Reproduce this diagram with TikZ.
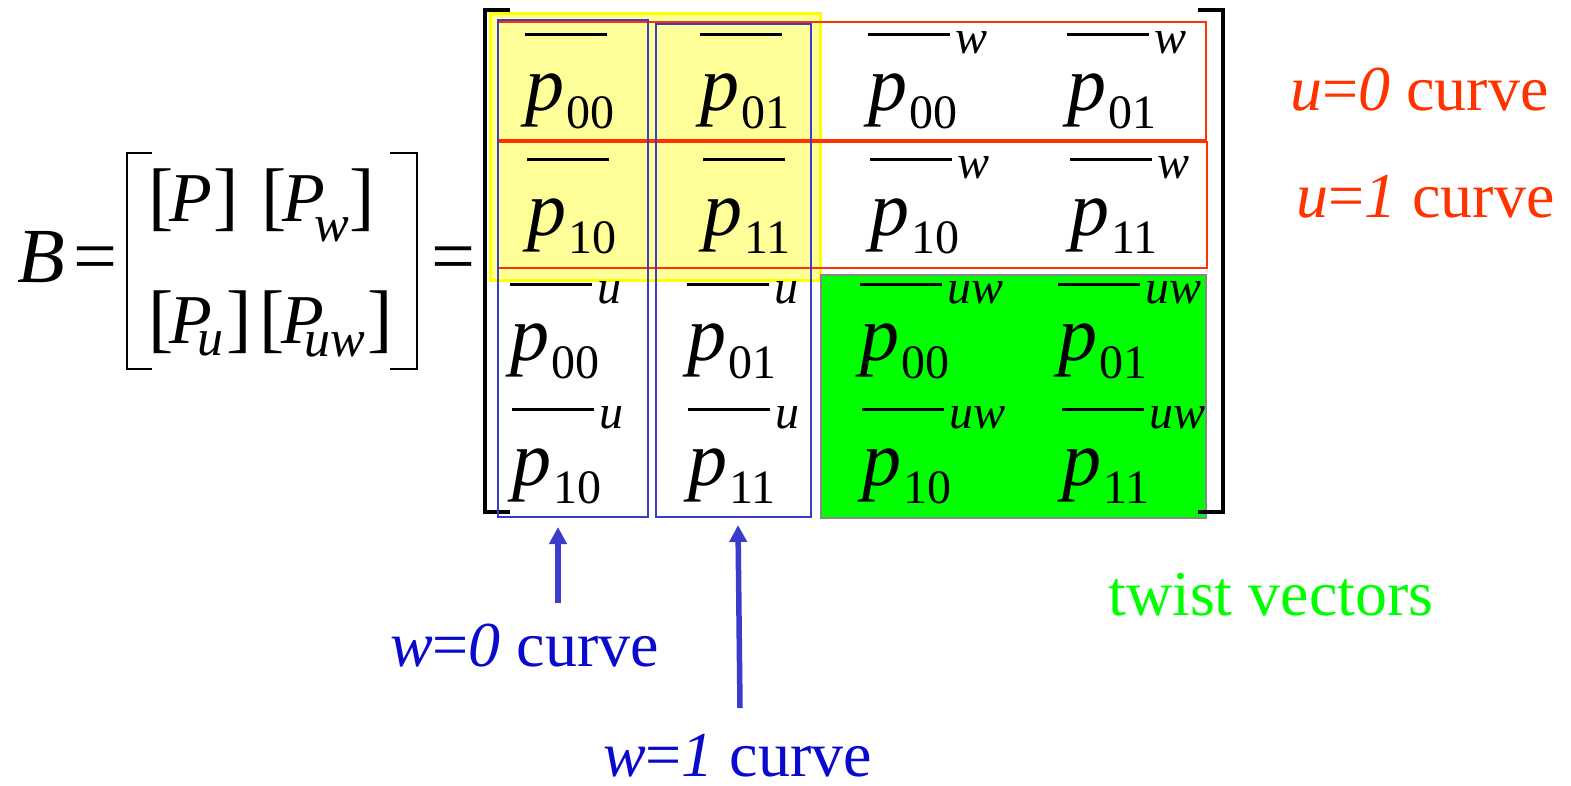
\documentclass[tikz,border=0pt]{standalone}
\usepackage{fontspec}
\setmainfont{Liberation Serif}
\usetikzlibrary{arrows.meta,calc}
\definecolor{yfill}{HTML}{FFFF99}
\definecolor{yedge}{HTML}{FFFF00}
\definecolor{gfill}{HTML}{00FF00}
\definecolor{gedge}{HTML}{888888}
\definecolor{redc}{HTML}{FF3300}
\definecolor{bluebox}{HTML}{3B3BCC}
\definecolor{bluetxt}{HTML}{0A0ACC}
\definecolor{greentxt}{HTML}{00FF00}
\newcommand{\ment}[5]{%
  \node[bigp] (#1) at (#2,#3) {\textit{p}\kern2pt\raisebox{-18pt}{\fontsize{48}{50}\selectfont #4}};
  \draw[ovl] (#2,{#3-76}) -- ({#2+82},{#3-76});
  \node[sups] (#1u) at ({#2+87},{#3-57}) {\textit{#5}};
}
\newcommand{\lbr}{{\fontsize{76}{78}\selectfont[}}
\newcommand{\rbr}{{\fontsize{76}{78}\selectfont]}}
\newcommand{\subt}[2]{\raisebox{-#1pt}{\fontsize{52}{54}\selectfont\itshape #2}}
\begin{document}
\begin{tikzpicture}[x=1pt,y=-1pt,
  bigp/.style={font=\fontsize{78}{80}\selectfont, inner sep=0, anchor=base west},
  sups/.style={font=\fontsize{48}{50}\selectfont, inner sep=0, anchor=base west},
  lm/.style={font=\fontsize{70}{72}\selectfont, inner sep=0, anchor=base west},
  lbl/.style={font=\fontsize{64}{66}\selectfont, inner sep=0, anchor=base west},
  ovl/.style={line width=3pt},
  brk/.style={line width=4pt},
  brks/.style={line width=2.5pt},
  bluer/.style={draw=bluebox, line width=1.6pt},
  redr/.style={draw=redc, line width=2pt},
  arr/.style={draw=bluebox, line width=5.5pt, -{Triangle[length=17pt,width=17pt]}}
]
\useasboundingbox (0,0) rectangle (1571,785);
% background boxes
\fill[yfill, draw=yedge, line width=3pt] (490,13) rectangle (820,280);
\fill[gfill, draw=gedge, line width=2pt] (821,275) rectangle (1206,518);
% left side
\node[bigp] (B) at (17,282) {\textit{B}};
\node[bigp] (eq1) at (73,282) {=};
\draw[brks] (152,153) -- (127,153) -- (127,369) -- (152,369);
\draw[brks] (390,153) -- (417,153) -- (417,369) -- (390,369);
\node[lm] (g1) at (148,221) {\lbr\kern-4pt\textit{P}\kern1pt\rbr};
\node[lm] (g2) at (261,221) {\lbr\kern-4pt\textit{P}\kern-11pt\subt{20}{w}\kern0.5pt\rbr};
\node[lm] (g3) at (148,343) {\lbr\kern-4pt\textit{P}\kern-15pt\subt{12}{u}\kern3pt\rbr};
\node[lm] (g4) at (259,343) {\lbr\kern-3pt\textit{P}\kern-20pt\subt{13}{uw}\kern3pt\rbr};
\node[bigp] (eq2) at (431,282) {=};
% big matrix brackets
\draw[brk] (510,10) -- (485,10) -- (485,512) -- (510,512);
\draw[brk] (1198,10) -- (1223,10) -- (1223,512) -- (1198,512);
% entries
\ment{a11}{525}{110}{00}{}
\ment{a12}{700}{110}{01}{}
\ment{a13}{868}{110}{00}{w}
\ment{a14}{1067}{110}{01}{w}
\ment{a21}{527}{235}{10}{}
\ment{a22}{703}{235}{11}{}
\ment{a23}{870}{235}{10}{w}
\ment{a24}{1070}{235}{11}{w}
\ment{a31}{510}{360}{00}{u}
\ment{a32}{687}{360}{01}{u}
\ment{a33}{860}{360}{00}{uw}
\ment{a34}{1058}{360}{01}{uw}
\ment{a41}{512}{485}{10}{u}
\ment{a42}{688}{485}{11}{u}
\ment{a43}{862}{485}{10}{uw}
\ment{a44}{1062}{485}{11}{uw}
% red row boxes
\draw[redr] (498,22) rectangle (1206,140);
\draw[redr] (498,142) rectangle (1207,268);
% blue column boxes
\draw[bluer] (498,20) rectangle (648,517);
\draw[bluer] (656,24) rectangle (811,517);
% labels
\node[lbl, text=redc] (u0) at (1290,110) {\textit{u}=\textit{0} curve};
\node[lbl, text=redc] (u1) at (1296,217) {\textit{u}=\textit{1} curve};
\node[lbl, text=bluetxt] (w0) at (390,666) {\textit{w}=\textit{0} curve};
\node[lbl, text=bluetxt] (w1) at (603,776) {\textit{w}=\textit{1} curve};
\node[lbl, text=greentxt] (tw) at (1108,615) {twist vectors};
% arrows
\coordinate (a1s) at (558,603);
\coordinate (a1e) at (558,527);
\coordinate (a2s) at (740,708);
\coordinate (a2e) at (738,525);
\draw[arr] (a1s) -- (a1e);
\draw[arr] (a2s) -- (a2e);
\end{tikzpicture}
\end{document}
